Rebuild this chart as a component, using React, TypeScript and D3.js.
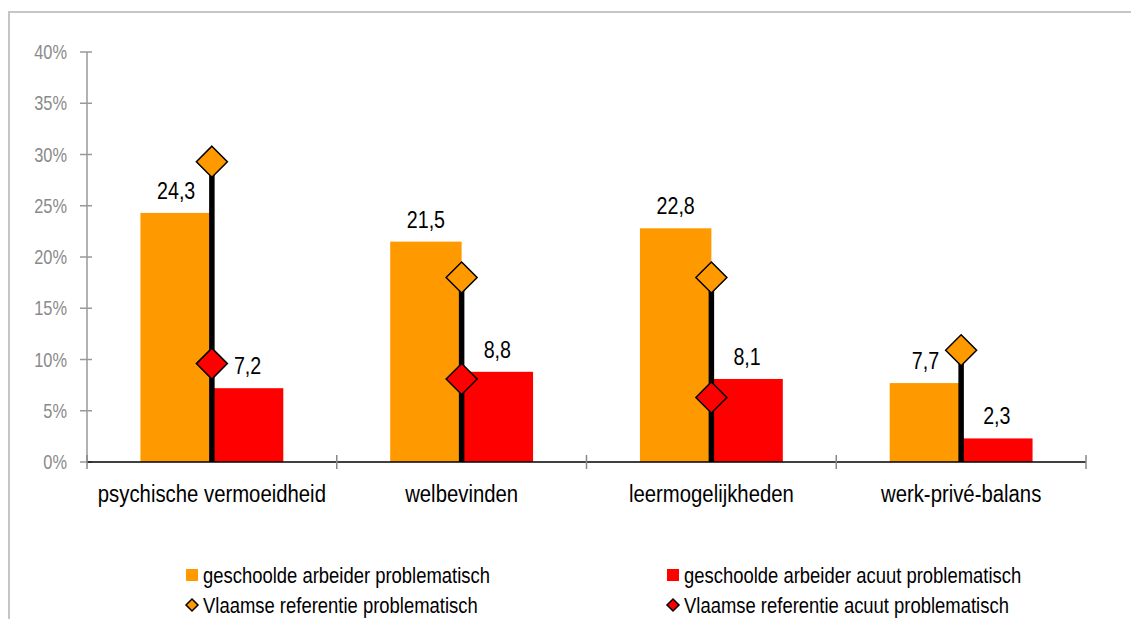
import React from "react";
import * as d3 from "d3";

const categories = ["psychische vermoeidheid", "welbevinden", "leermogelijkheden", "werk-privé-balans"];
const problematisch = [24.3, 21.5, 22.8, 7.7];
const acuut = [7.2, 8.8, 8.1, 2.3];
const refProblematisch = [29.3, 18.0, 18.0, 10.9];
const refAcuut: (number | null)[] = [9.6, 8.1, 6.3, null];
const yTicks = [0, 5, 10, 15, 20, 25, 30, 35, 40];
const seriesNames = [
  "geschoolde arbeider problematisch",
  "geschoolde arbeider acuut problematisch",
  "Vlaamse referentie problematisch",
  "Vlaamse referentie acuut problematisch",
];

const ORANGE = "#FF9900";
const RED = "#FF0000";
const FONT = "'Liberation Sans', Arial, sans-serif";
const NARROW = 0.82;

function NText(props: {
  x: number;
  y: number;
  size: number;
  anchor?: "start" | "middle" | "end";
  fill?: string;
  children: React.ReactNode;
}) {
  const { x, y, size, anchor = "start", fill = "#000", children } = props;
  return (
    <g transform={`translate(${x},${y}) scale(${NARROW},1)`}>
      <text x={0} y={0} fontSize={size} textAnchor={anchor} fill={fill}>
        {children}
      </text>
    </g>
  );
}

export default function App() {
  const W = 1131, H = 619;
  const left = 87, right = 1086, top = 52, bottom = 462;
  const x = d3.scaleBand<string>().domain(categories).range([left, right]).paddingInner(0).paddingOuter(0);
  const y = d3.scaleLinear().domain([0, 40]).range([bottom, top]);
  const groupW = x.bandwidth() * 0.572;
  const inner = d3.scaleBand<number>().domain([0, 1]).range([0, groupW]).padding(0);
  const diamond = (cx: number, cy: number, r: number) =>
    `M${cx},${cy - r}L${cx + r},${cy}L${cx},${cy + r}L${cx - r},${cy}Z`;
  const fmt = (v: number) => v.toFixed(1).replace(".", ",");

  const boundaries = [...categories.map((c) => x(c)!), right];

  return (
    <svg width={W} height={H} style={{ position: "absolute", left: 0, top: 0, background: "#fff" }} fontFamily={FONT}>
      <path d={`M9,${H}V12H${W}`} fill="none" stroke="#c6c6c6" strokeWidth={2} />
      {/* y axis */}
      <line x1={left} x2={left} y1={top} y2={bottom} stroke="#999" strokeWidth={1.5} />
      {yTicks.map((t) => (
        <g key={t}>
          <line x1={left - 7} x2={left + 5} y1={y(t)} y2={y(t)} stroke="#999" strokeWidth={1.5} />
          <NText x={left - 20} y={y(t) + 7} size={20} anchor="end" fill="#8a8a8a">
            {t}%
          </NText>
        </g>
      ))}
      {/* bars */}
      {categories.map((c, i) => {
        const gx = x(c)! + (x.bandwidth() - groupW) / 2;
        return (
          <g key={c}>
            <rect x={gx + inner(0)!} y={y(problematisch[i])} width={inner.bandwidth()} height={bottom - y(problematisch[i])} fill={ORANGE} />
            <rect x={gx + inner(1)!} y={y(acuut[i])} width={inner.bandwidth()} height={bottom - y(acuut[i])} fill={RED} />
          </g>
        );
      })}
      {/* x axis */}
      <line x1={left} x2={right} y1={bottom} y2={bottom} stroke="#000" strokeWidth={1.5} />
      {boundaries.map((b, i) => (
        <line key={i} x1={b} x2={b} y1={bottom - 7} y2={bottom + 7} stroke="#888" strokeWidth={1.5} />
      ))}
      {/* reference lines & diamonds */}
      {categories.map((c, i) => {
        const cx = x(c)! + x.bandwidth() / 2;
        const ra = refAcuut[i];
        return (
          <g key={c}>
            <line x1={cx} x2={cx} y1={y(refProblematisch[i])} y2={bottom} stroke="#000" strokeWidth={5.5} />
            <path d={diamond(cx, y(refProblematisch[i]), 15.5)} fill={ORANGE} stroke="#000" strokeWidth={1.5} />
            {ra !== null && <path d={diamond(cx, y(ra), 15.5)} fill={RED} stroke="#000" strokeWidth={1.5} />}
          </g>
        );
      })}
      {/* value labels */}
      {categories.map((c, i) => {
        const gx = x(c)! + (x.bandwidth() - groupW) / 2;
        return (
          <g key={c}>
            <NText x={gx + inner(0)! + inner.bandwidth() / 2} y={y(problematisch[i]) - 14} size={24} anchor="middle">
              {fmt(problematisch[i])}
            </NText>
            <NText x={gx + inner(1)! + inner.bandwidth() / 2} y={y(acuut[i]) - 14} size={24} anchor="middle">
              {fmt(acuut[i])}
            </NText>
          </g>
        );
      })}
      {/* category labels */}
      {categories.map((c) => (
        <NText key={c} x={x(c)! + x.bandwidth() / 2} y={502} size={24.8} anchor="middle">
          {c}
        </NText>
      ))}
      {/* legend */}
      <rect x={186} y={569} width={12} height={12} fill={ORANGE} />
      <NText x={203} y={583} size={22.5}>{seriesNames[0]}</NText>
      <rect x={667} y={569} width={12} height={12} fill={RED} />
      <NText x={684} y={583} size={22.5}>{seriesNames[1]}</NText>
      <path d={diamond(192, 605, 6)} fill={ORANGE} stroke="#000" strokeWidth={1.5} />
      <NText x={203} y={613} size={22.5}>{seriesNames[2]}</NText>
      <path d={diamond(673, 605, 6)} fill={RED} stroke="#000" strokeWidth={1.5} />
      <NText x={684} y={613} size={22.5}>{seriesNames[3]}</NText>
    </svg>
  );
}
